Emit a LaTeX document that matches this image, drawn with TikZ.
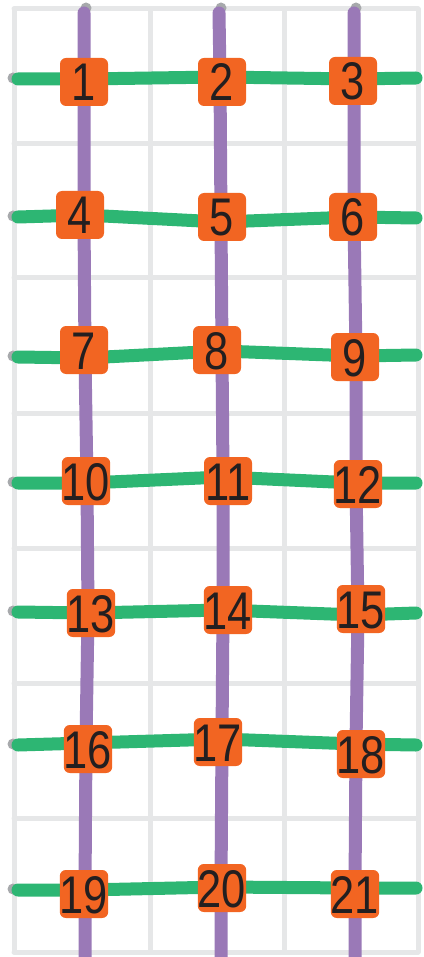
\documentclass[tikz,border=0pt]{standalone}
\usepackage{fontspec}
\setmainfont{Liberation Sans}
\usepackage{xcolor}
\usepackage{tikz}
\usetikzlibrary{backgrounds}

\definecolor{gridgray}{HTML}{E6E7E8}
\definecolor{dotgray}{HTML}{A7A9AC}
\definecolor{linepurple}{HTML}{9A79B7}
\definecolor{linegreen}{HTML}{2DB673}
\definecolor{boxorange}{HTML}{F26522}
\definecolor{ink}{HTML}{231F20}

\begin{document}
\begin{tikzpicture}[x=1pt,y=-1pt,
    gridline/.style={draw=gridgray,line width=5pt,line cap=round},
    numbox/.style={fill=boxorange,rounded corners=6pt,minimum size=48pt,inner sep=0pt,
      text height=38pt,text depth=0pt,text=ink,font=\fontsize{53}{53}\selectfont},
    purpleline/.style={draw=linepurple,line width=13pt,line cap=round,line join=round},
    greenline/.style={draw=linegreen,line width=13pt,line cap=round,line join=round},
    enddot/.style={fill=dotgray}]
  \useasboundingbox (0,0) rectangle (423,957);

  % numbered boxes, each sitting near the crossing (c..) of its two lines
  \foreach \n/\x/\y/\cx/\cy in {1/84/82/84/79,2/222/82/220/77,3/353/81/354/79,
      4/80/215/84/215,5/222/217/221/222,6/353/217/354/217,
      7/84/350/85/358,8/217/350/222/351,9/355/357/356/356,
      10/86/481/87/483,11/228/481/223/477,12/358/484/356/483,
      13/91/613/88/613,14/228/610/223/610,15/361/609/358/615,
      16/88/749/86/743,17/218/742/222/739,18/361/754/356/744,
      19/84/894/85/890,20/222/888/221/887,21/355/894/355/888} {
    \coordinate (c\n) at (\cx,\cy);
    \node[numbox] (n\n) at (\x,\y) {\scalebox{0.82}[1]{\n}};
  }

  % loose ends of the rows and columns
  \foreach \i/\yl/\yr in {1/79/78,2/217/218,3/357/355,4/483/483,5/612/613,6/745/745,7/890/888} {
    \coordinate (l\i) at (18,\yl);
    \coordinate (r\i) at (416,\yr);
  }
  \foreach \i/\xt/\xb in {1/84/85,2/219/221,3/354/355} {
    \coordinate (t\i) at (\xt,13);
    \coordinate (b\i) at (\xb,963);
  }

  \begin{pgfonlayer}{background}
    \foreach \x in {14,150,284,418} \draw[gridline] (\x,9) -- (\x,952);
    \foreach \y in {9,144,278,413,548,683,818,952} \draw[gridline] (14,\y) -- (418,\y);
    \foreach \i in {1,2,3} \fill[enddot] (t\i) ++(2,-5) circle (5.5);
    \foreach \i in {1,...,7} \fill[enddot] (l\i) ++(-5,-1) circle (5.5);

    \draw[purpleline] (t1) -- (c1) -- (c4) -- (c7) -- (c10) -- (c13) -- (c16) -- (c19) -- (b1);
    \draw[purpleline] (t2) -- (c2) -- (c5) -- (c8) -- (c11) -- (c14) -- (c17) -- (c20) -- (b2);
    \draw[purpleline] (t3) -- (c3) -- (c6) -- (c9) -- (c12) -- (c15) -- (c18) -- (c21) -- (b3);

    \draw[greenline] (l1) -- (c1) -- (c2) -- (c3) -- (r1);
    \draw[greenline] (l2) -- (c4) -- (c5) -- (c6) -- (r2);
    \draw[greenline] (l3) -- (c7) -- (c8) -- (c9) -- (r3);
    \draw[greenline] (l4) -- (c10) -- (c11) -- (c12) -- (r4);
    \draw[greenline] (l5) -- (c13) -- (c14) -- (c15) -- (r5);
    \draw[greenline] (l6) -- (c16) -- (c17) -- (c18) -- (r6);
    \draw[greenline] (l7) -- (c19) -- (c20) -- (c21) -- (r7);
  \end{pgfonlayer}
\end{tikzpicture}
\end{document}
